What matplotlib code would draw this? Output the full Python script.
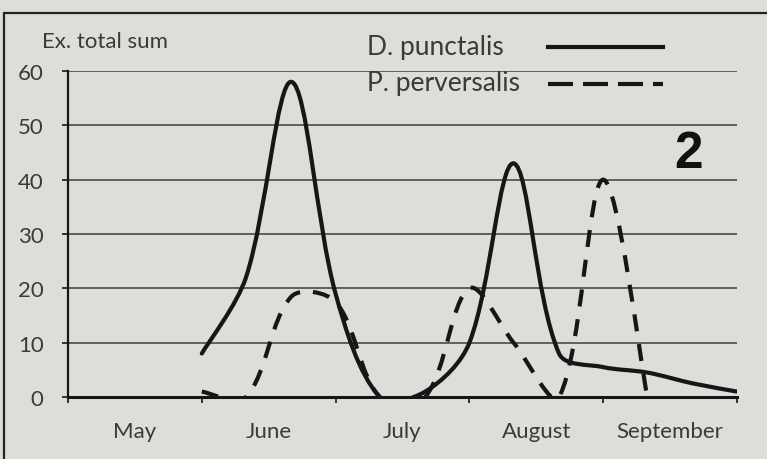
import matplotlib.pyplot as plt
from matplotlib.path import Path
from matplotlib.patches import PathPatch, Rectangle
from matplotlib.lines import Line2D

# months on the x axis (category axis, ticks between categories)
months = ["May", "June", "July", "August", "September"]

# sampling points, in months since 1 May (roughly every ten days)
x_punct = [1.0, 1.33, 1.67, 2.0, 2.33, 2.67, 3.0, 3.33, 3.67, 4.0, 4.33, 4.67, 5.0]
y_punct = [8, 22, 58, 19, 0, 1, 10, 43, 8, 5.5, 4.5, 2.5, 1]

x_perv = [1.0, 1.33, 1.67, 2.0, 2.33, 2.67, 3.0, 3.33, 3.67, 4.0, 4.33]
y_perv = [1, 0, 18.5, 17.5, 0, 0, 20, 10, 0, 40, 0]

y_ticks = [0, 10, 20, 30, 40, 50, 60]

BG = "#dcdeda"
INK = "#161616"
TXT = "#3a3a3a"
FONT = "Lato"

# pixels per data unit, only used to weigh the curve smoothing like a screen would
SX, SY = 133.8, 5.43


def smooth_path(xs, ys):
    # Excel-like smoothed line: cubic Bezier segments, tangents scaled by chord length
    pts = list(zip(xs, ys))
    n = len(pts)

    def dist(a, b):
        return (((a[0] - b[0]) * SX) ** 2 + ((a[1] - b[1]) * SY) ** 2) ** 0.5

    def tangent(i):
        p0 = pts[max(i - 1, 0)]
        p2 = pts[min(i + 1, n - 1)]
        return (p2[0] - p0[0], p2[1] - p0[1])

    def share(i, side):
        # end points get the plain 1/6, inner points split by the chord lengths
        if i == 0 or i == n - 1:
            return 1 / 6
        dp = dist(pts[i - 1], pts[i])
        dn = dist(pts[i], pts[i + 1])
        return (dn if side == "out" else dp) / (dp + dn) / 3

    verts = [pts[0]]
    codes = [Path.MOVETO]
    for i in range(n - 1):
        t1, t2 = tangent(i), tangent(i + 1)
        f1, f2 = share(i, "out"), share(i + 1, "in")
        c1 = (pts[i][0] + t1[0] * f1, pts[i][1] + t1[1] * f1)
        c2 = (pts[i + 1][0] - t2[0] * f2, pts[i + 1][1] - t2[1] * f2)
        verts += [c1, c2, pts[i + 1]]
        codes += [Path.CURVE4] * 3
    return Path(verts, codes)


fig = plt.figure(figsize=(7.67, 4.6), dpi=100, facecolor=BG)
ax = fig.add_axes([68 / 767, 1 - 398 / 460, 669 / 767, 326 / 460])
ax.set_facecolor(BG)

ax.set_xlim(0, 5)
ax.set_ylim(0, 60)

# horizontal gridlines
for v in y_ticks[1:]:
    ax.axhline(v, color="#4a4a4a", lw=1.2, zorder=1)

ax.add_patch(PathPatch(smooth_path(x_punct, y_punct), fill=False,
                       edgecolor=INK, lw=3, capstyle="round", zorder=3))
ax.add_patch(PathPatch(smooth_path(x_perv, y_perv), fill=False,
                       edgecolor=INK, lw=3, linestyle=(0, (4.1, 3.1)), zorder=3))

for s in ["top", "right"]:
    ax.spines[s].set_visible(False)
ax.spines["left"].set_linewidth(1.6)
ax.spines["bottom"].set_linewidth(2.2)
ax.spines["left"].set_color(INK)
ax.spines["bottom"].set_color(INK)
ax.spines["left"].set_zorder(4)
ax.spines["bottom"].set_zorder(4)

ax.set_yticks(y_ticks)
ax.tick_params(axis="y", direction="out", length=4.5, width=1.2, color=INK,
               pad=13, labelsize=16, labelcolor=TXT)

ax.set_xticks(range(len(months) + 1))
ax.set_xticklabels([])
ax.set_xticks([i + 0.5 for i in range(len(months))], minor=True)
ax.set_xticklabels(months, minor=True)
ax.tick_params(axis="x", which="major", direction="out", length=4, width=1.2, color=INK)
ax.tick_params(axis="x", which="minor", length=0, pad=17, labelsize=16, labelcolor=TXT)
for lab in ax.get_xticklabels(minor=True) + ax.get_yticklabels():
    lab.set_fontfamily(FONT)

# axis title
fig.text(42 / 767, 1 - 42 / 460, "Ex. total sum", fontsize=16, color=TXT,
         family=FONT, ha="left", va="center")

# legend, drawn by hand as in the original
fig.text(367 / 767, 1 - 47 / 460, "D. punctalis", fontsize=19, color=TXT,
         family=FONT, ha="left", va="center")
fig.text(367 / 767, 1 - 84 / 460, "P. perversalis", fontsize=19, color=TXT,
         family=FONT, ha="left", va="center")
fig.add_artist(Line2D([548 / 767, 663 / 767], [1 - 48 / 460] * 2, color=INK, lw=3))
fig.add_artist(Line2D([548 / 767, 663 / 767], [1 - 85 / 460] * 2, color=INK, lw=3,
                      linestyle=(0, (6.0, 2.4))))

# panel number
fig.text(689 / 767, 1 - 154 / 460, "2", fontsize=37, fontweight="bold",
         family="Liberation Sans", color="#111111", ha="center", va="center")

# frame around the panel
fig.add_artist(Rectangle((4 / 767, -0.1), 1.2, 1.1 - 14 / 460, transform=fig.transFigure,
                         fill=False, edgecolor="#222222", lw=1.6))

fig.savefig("out.png", dpi=100, facecolor=BG)
